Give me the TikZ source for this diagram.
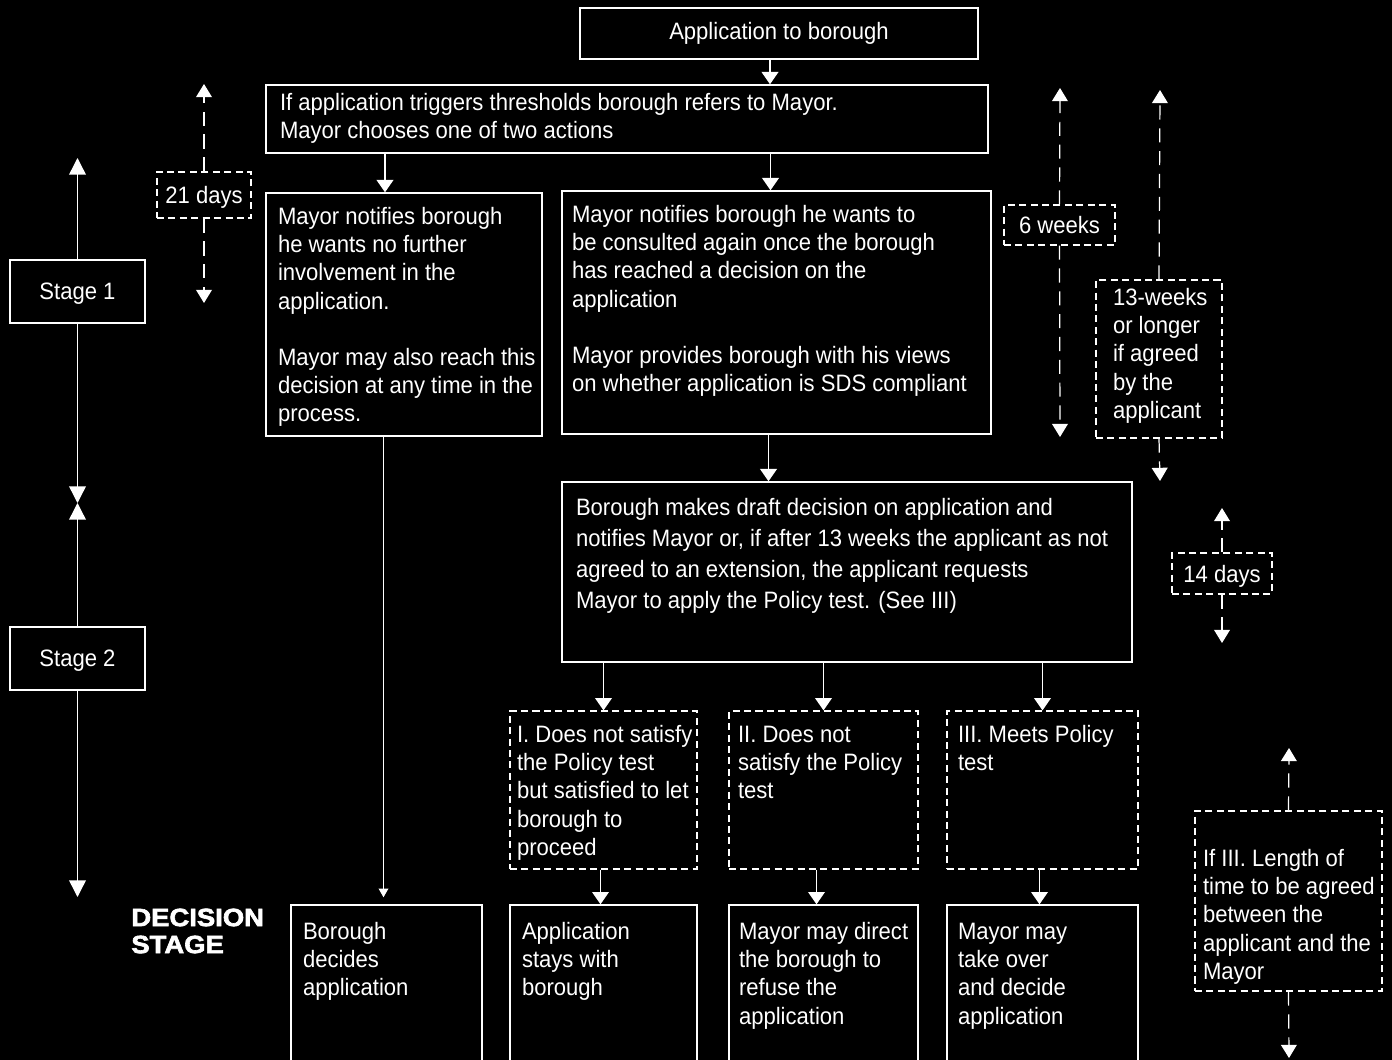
\documentclass[tikz,border=0pt]{standalone}
\usepackage{fontspec}
\setmainfont{Liberation Sans}[FakeStretch=0.93]
\newfontfamily\headfont{Liberation Sans}[FakeStretch=1.1,BoldFeatures={FakeBold=2.5}]
\usetikzlibrary{arrows.meta}
\newlength{\pxu}
\setlength{\pxu}{0.02cm}
\newcommand{\boxtext}[4][0]{\parbox[c][#3\pxu][t]{#2\pxu}{\vspace*{#1\pxu}\begin{tabular}[t]{@{}l@{}}#4\end{tabular}}}

\begin{document}
\begin{tikzpicture}[
    x=0.02cm, y=-0.02cm, color=white,
    box/.style={draw, line width=0.8pt, inner sep=12\pxu, font=\fontsize{13.5}{16}\selectfont},
    dbox/.style={box, line width=0.7pt, dash pattern=on 4pt off 2.5pt},
    one/.style={inner sep=0, text depth=0pt},
    flow/.style={line width=0.8pt, -{Triangle[width=9.5pt,length=7pt]}},
    tall/.style={line width=0.8pt, -{Triangle[width=9.5pt,length=9.5pt]}},
    thin/.style={line width=0.8pt, -{Triangle[width=5.5pt,length=5pt]}},
    span/.style={line width=0.7pt, dash pattern=on 8pt off 5pt, -{Triangle[width=9pt,length=7.5pt]}},
    head/.style={font=\headfont\bfseries\fontsize{14.2}{15.4}\selectfont, align=left, inner sep=0},
]
\useasboundingbox (0,0) rectangle (1392,1060);
\clip (0,0) rectangle (1392,1060);
\fill[black] (0,0) rectangle (1392,1060);

\node[box, minimum width=398\pxu, minimum height=51\pxu] (appl) at (779,33.5) {Application to borough};
\node[box, inner xsep=14\pxu, inner ysep=6\pxu] (refer) at (627,119)
  {\boxtext{694}{56}{If application triggers thresholds borough refers to Mayor.\\Mayor chooses one of two actions}};

\node[box] (nofurther) at (404,314.5)
  {\boxtext{252}{219}{Mayor notifies borough\\he wants no further\\involvement in the\\application.\\ \\Mayor may also reach this\\decision at any time in the\\process.}};
\node[box, inner xsep=10\pxu] (consult) at (776.5,312.5)
  {\boxtext{409}{219}{Mayor notifies borough he wants to\\be consulted again once the borough\\has reached a decision on the\\application\\ \\Mayor provides borough with his views\\on whether application is SDS compliant}};

\node[box, inner xsep=14\pxu, font=\fontsize{13.5}{17.6}\selectfont] (draft) at (847,572)
  {\boxtext{542}{156}{Borough makes draft decision on application and\\notifies Mayor or, if after 13 weeks the applicant as not\\agreed to an extension, the applicant requests\\Mayor to apply the Policy test. (See III)}};

\node[dbox, inner xsep=7\pxu] (optone) at (603.5,790)
  {\boxtext{173}{134}{I. Does not satisfy\\the Policy test\\but satisfied to let\\borough to\\proceed}};
\node[dbox, inner xsep=9\pxu] (opttwo) at (823.5,790)
  {\boxtext{171}{134}{II. Does not\\satisfy the Policy\\test}};
\node[dbox, inner xsep=11\pxu] (optthree) at (1042.5,790)
  {\boxtext{169}{134}{III. Meets Policy\\test}};

\node[box, inner ysep=15\pxu] (decborough) at (386.5,995)
  {\boxtext{167}{150}{Borough\\decides\\application}};
\node[box, inner ysep=15\pxu] (decstays) at (603.5,995)
  {\boxtext{163}{150}{Application\\stays with\\borough}};
\node[box, inner xsep=10\pxu, inner ysep=15\pxu] (decrefuse) at (823.5,995)
  {\boxtext{169}{150}{Mayor may direct\\the borough to\\refuse the\\application}};
\node[box, inner xsep=11\pxu, inner ysep=15\pxu] (dectake) at (1042.5,995)
  {\boxtext{169}{150}{Mayor may\\take over\\and decide\\application}};

\node[head, anchor=west] (decstage) at (131,931) {DECISION\\STAGE};

\node[box, one, minimum width=135\pxu, minimum height=63\pxu] (stageone) at (77.5,291.5) {Stage 1};
\node[box, one, minimum width=135\pxu, minimum height=63\pxu] (stagetwo) at (77.5,658.5) {Stage 2};

\node[dbox, one, minimum width=94\pxu, minimum height=46\pxu] (tdays) at (204,195) {21 days};
\node[dbox, one, minimum width=111\pxu, minimum height=40\pxu] (tsixwk) at (1059.5,225) {6 weeks};
\node[dbox, inner xsep=17\pxu, inner ysep=6\pxu] (tthirteen) at (1159,359)
  {\boxtext{92}{146}{13-weeks\\or longer\\if agreed\\by the\\applicant}};
\node[dbox, one, minimum width=100\pxu, minimum height=41\pxu] (tfourteen) at (1222,573.5) {14 days};
\node[dbox, inner xsep=8\pxu, inner ysep=6\pxu] (tagreed) at (1288.5,901)
  {\boxtext[30]{171}{168}{If III. Length of\\time to be agreed\\between the\\applicant and the\\Mayor}};

\coordinate (s1top) at (77.5,158);
\coordinate (s12) at (77.5,503);
\coordinate (s2bot) at (77.5,897);
\coordinate (tdaysup) at (204,84);
\coordinate (tdaysdn) at (204,303);
\coordinate (tsixup) at (1060,88);
\coordinate (tsixdn) at (1060,437);
\coordinate (tthirup) at (1160,90);
\coordinate (tthirdn) at (1160,481);
\coordinate (tfourup) at (1222,508);
\coordinate (tfourdn) at (1222,643);
\coordinate (tagrup) at (1289,748);
\coordinate (tagrdn) at (1289,1058);

\draw[flow] ([xshift=-9\pxu]appl.south) -- ([xshift=-9\pxu]appl.south |- refer.north);
\draw[flow] ([xshift=-19\pxu]nofurther.north |- refer.south) -- ([xshift=-19\pxu]nofurther.north);
\draw[flow] ([xshift=-6\pxu]consult.north |- refer.south) -- ([xshift=-6\pxu]consult.north);
\draw[flow] ([xshift=-8\pxu]consult.south) -- ([xshift=-8\pxu]consult.south |- draft.north);
\draw[thin, shorten >=7\pxu] ([xshift=-3\pxu]decborough.north |- nofurther.south) -- ([xshift=-3\pxu]decborough.north);
\draw[flow] (draft.south -| optone.north) -- (optone.north);
\draw[flow] (draft.south -| opttwo.north) -- (opttwo.north);
\draw[flow] (draft.south -| optthree.north) -- (optthree.north);
\draw[flow] ([xshift=-3\pxu]optone.south) -- ([xshift=-3\pxu]decstays.north);
\draw[flow] ([xshift=-7\pxu]opttwo.south) -- ([xshift=-7\pxu]decrefuse.north);
\draw[flow] ([xshift=-3\pxu]optthree.south) -- ([xshift=-3\pxu]dectake.north);

\draw[tall] (stageone.north) -- (s1top);
\draw[tall] (stageone.south) -- (s12);
\draw[tall] (stagetwo.north) -- (s12);
\draw[tall] (stagetwo.south) -- (s2bot);

\draw[span] (tdays.north) -- (tdaysup);
\draw[span] (tdays.south) -- (tdaysdn);
\draw[span] (tsixwk.north) -- (tsixup);
\draw[span] (tsixwk.south) -- (tsixdn);
\draw[span] (tthirteen.north) -- (tthirup);
\draw[span] (tthirteen.south) -- (tthirdn);
\draw[span] (tfourteen.north) -- (tfourup);
\draw[span] (tfourteen.south) -- (tfourdn);
\draw[span] (tagreed.north) -- (tagrup);
\draw[span] (tagreed.south) -- (tagrdn);
\end{tikzpicture}
\end{document}
